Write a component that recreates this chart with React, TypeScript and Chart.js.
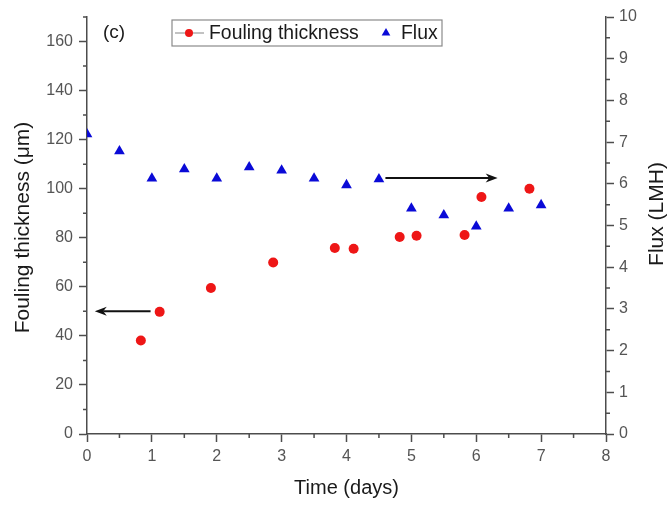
import React, { useEffect, useRef } from 'react';
import { Chart, registerables } from 'chart.js';

Chart.register(...registerables);

// ---- data ----
const timeFouling = [0.83, 1.12, 1.91, 2.87, 3.82, 4.11, 4.82, 5.08, 5.82, 6.08, 6.82];
const foulingThickness = [38.1, 49.8, 59.5, 69.9, 75.8, 75.5, 80.3, 80.8, 81.1, 96.6, 100.0];
const timeFlux = [0, 0.5, 1, 1.5, 2, 2.5, 3, 3.5, 4, 4.5, 5, 5.5, 6, 6.5, 7];
const fluxValues = [7.19, 6.78, 6.13, 6.35, 6.13, 6.4, 6.32, 6.13, 5.97, 6.11, 5.41, 5.25, 4.98, 5.41, 5.49];

const xTicks = [0, 1, 2, 3, 4, 5, 6, 7, 8];
const xMinor = [0.5, 1.5, 2.5, 3.5, 4.5, 5.5, 6.5, 7.5];
const leftTicks = [0, 20, 40, 60, 80, 100, 120, 140, 160];
const leftMinor = [10, 30, 50, 70, 90, 110, 130, 150, 170];
const rightTicks = [0, 1, 2, 3, 4, 5, 6, 7, 8, 9, 10];
const rightMinor = [0.5, 1.5, 2.5, 3.5, 4.5, 5.5, 6.5, 7.5, 8.5, 9.5];

// arrows: [x, y] in data units, axis = which y scale
const arrowToLeft = { from: [0.98, 50], to: [0.12, 50], axis: 'y' };
const arrowToRight = { from: [4.6, 6.14], to: [6.33, 6.14], axis: 'y2' };

const panelLabel = '(c)';
const xTitle = 'Time (days)';
const yTitle = 'Fouling thickness (μm)';
const y2Title = 'Flux (LMH)';

const FONT = '"Liberation Sans", Arial, Helvetica, sans-serif';
const AXIS = '#4d4d4d';
const TICK = '#555555';
const TITLE = '#1a1a1a';
const RED = 'rgb(238,22,22)';
const BLUE = 'rgb(10,10,215)';

const minorTicksPlugin = {
  id: 'minorTicks',
  afterDraw(chart: any) {
    const ctx = chart.ctx;
    const { x, y, y2 } = chart.scales;
    const a = chart.chartArea;
    ctx.save();
    ctx.strokeStyle = AXIS;
    ctx.lineWidth = 1.5;
    ctx.beginPath();
    xMinor.forEach((v) => {
      const px = x.getPixelForValue(v);
      ctx.moveTo(px, a.bottom);
      ctx.lineTo(px, a.bottom + 4);
    });
    leftMinor.forEach((v) => {
      const py = y.getPixelForValue(v);
      ctx.moveTo(a.left, py);
      ctx.lineTo(a.left - 4, py);
    });
    rightMinor.forEach((v) => {
      const py = y2.getPixelForValue(v);
      ctx.moveTo(a.right, py);
      ctx.lineTo(a.right + 4, py);
    });
    ctx.stroke();
    ctx.restore();
  },
};

function drawArrow(ctx: any, x1: number, y1: number, x2: number, y2: number) {
  const ang = Math.atan2(y2 - y1, x2 - x1);
  const L = 12;
  const W = 4.5;
  ctx.beginPath();
  ctx.moveTo(x1, y1);
  ctx.lineTo(x2 - Math.cos(ang) * L * 0.7, y2 - Math.sin(ang) * L * 0.7);
  ctx.stroke();
  ctx.beginPath();
  ctx.moveTo(x2, y2);
  ctx.lineTo(x2 - Math.cos(ang) * L - Math.sin(ang) * W, y2 - Math.sin(ang) * L + Math.cos(ang) * W);
  ctx.lineTo(x2 - Math.cos(ang) * L * 0.7, y2 - Math.sin(ang) * L * 0.7);
  ctx.lineTo(x2 - Math.cos(ang) * L + Math.sin(ang) * W, y2 - Math.sin(ang) * L - Math.cos(ang) * W);
  ctx.closePath();
  ctx.fill();
}

const decorPlugin = {
  id: 'decor',
  afterDraw(chart: any) {
    const ctx = chart.ctx;
    const a = chart.chartArea;
    const { x } = chart.scales;
    ctx.save();
    // arrows
    ctx.strokeStyle = '#111';
    ctx.fillStyle = '#111';
    ctx.lineWidth = 2;
    [arrowToLeft, arrowToRight].forEach((ar) => {
      const ys = chart.scales[ar.axis];
      drawArrow(
        ctx,
        x.getPixelForValue(ar.from[0]),
        ys.getPixelForValue(ar.from[1]),
        x.getPixelForValue(ar.to[0]),
        ys.getPixelForValue(ar.to[1])
      );
    });

    // titles
    ctx.fillStyle = TITLE;
    ctx.font = `20px ${FONT}`;
    ctx.textAlign = 'center';
    ctx.textBaseline = 'middle';
    ctx.fillText(xTitle, (a.left + a.right) / 2, 488);
    ctx.font = `21px ${FONT}`;
    ctx.save();
    ctx.translate(23, (a.top + a.bottom) / 2 + 2);
    ctx.rotate(-Math.PI / 2);
    ctx.fillText(yTitle, 0, 0);
    ctx.restore();
    ctx.save();
    ctx.translate(657, 214);
    ctx.rotate(-Math.PI / 2);
    ctx.fillText(y2Title, 0, 0);
    ctx.restore();

    // panel label
    ctx.font = `19px ${FONT}`;
    ctx.textAlign = 'left';
    ctx.fillText(panelLabel, a.left + 16, a.top + 16);

    // legend
    const ds = chart.data.datasets;
    const lx = a.left + 85;
    const ly = a.top + 3;
    const lw = 270;
    const lh = 26;
    ctx.fillStyle = '#fff';
    ctx.fillRect(lx, ly, lw, lh);
    ctx.strokeStyle = '#8a8a8a';
    ctx.lineWidth = 1.2;
    ctx.strokeRect(lx, ly, lw, lh);
    const cy = ly + lh / 2;
    ctx.strokeStyle = '#999';
    ctx.lineWidth = 1.2;
    ctx.beginPath();
    ctx.moveTo(lx + 3, cy);
    ctx.lineTo(lx + 32, cy);
    ctx.stroke();
    ctx.fillStyle = ds[0].backgroundColor;
    ctx.beginPath();
    ctx.arc(lx + 17, cy, 4, 0, Math.PI * 2);
    ctx.fill();
    ctx.fillStyle = TITLE;
    ctx.font = `19.4px ${FONT}`;
    ctx.textBaseline = 'middle';
    ctx.fillText(ds[0].label, lx + 37, cy + 1);
    // triangle
    const tx = lx + 214;
    const r = 5;
    ctx.fillStyle = ds[1].backgroundColor;
    ctx.beginPath();
    ctx.moveTo(tx, cy - r);
    ctx.lineTo(tx + r * 0.866, cy + r / 2);
    ctx.lineTo(tx - r * 0.866, cy + r / 2);
    ctx.closePath();
    ctx.fill();
    ctx.fillStyle = TITLE;
    ctx.fillText(ds[1].label, lx + 229, cy + 1);
    ctx.restore();
  },
};

export default function App() {
  const ref = useRef<HTMLCanvasElement | null>(null);

  useEffect(() => {
    document.body.style.margin = '0';
    const canvas = ref.current;
    if (!canvas) return;
    Chart.defaults.font.family = FONT;

    const chart = new Chart(canvas, {
      type: 'scatter',
      data: {
        datasets: [
          {
            label: 'Fouling thickness',
            data: timeFouling.map((t, i) => ({ x: t, y: foulingThickness[i] })),
            yAxisID: 'y',
            backgroundColor: RED,
            borderColor: RED,
            pointStyle: 'circle',
            pointRadius: 5,
            pointBorderWidth: 0,
            showLine: false,
            clip: 0,
          },
          {
            label: 'Flux',
            data: timeFlux.map((t, i) => ({ x: t, y: fluxValues[i] })),
            yAxisID: 'y2',
            backgroundColor: BLUE,
            borderColor: BLUE,
            pointStyle: 'triangle',
            pointRadius: 6.2,
            pointBorderWidth: 0,
            showLine: false,
            clip: 0,
          },
        ],
      },
      options: {
        responsive: false,
        animation: false,
        events: [],
        layout: { padding: { top: 17, left: 0, right: 0, bottom: 0 } },
        plugins: {
          legend: { display: false },
          title: { display: false },
          tooltip: { enabled: false },
        },
        scales: {
          x: {
            type: 'linear',
            position: 'bottom',
            min: 0,
            max: 8,
            afterBuildTicks: (s: any) => {
              s.ticks = xTicks.map((v) => ({ value: v }));
            },
            afterFit: (s: any) => {
              s.height = 73;
            },
            grid: { drawOnChartArea: false, tickLength: 8, tickColor: AXIS, tickWidth: 1.5 },
            border: { color: AXIS, width: 1.5 },
            ticks: { color: TICK, font: { size: 16 }, padding: 5, maxRotation: 0, autoSkip: false },
          },
          y: {
            type: 'linear',
            position: 'left',
            min: 0,
            max: 170,
            afterBuildTicks: (s: any) => {
              s.ticks = leftTicks.map((v) => ({ value: v }));
            },
            afterFit: (s: any) => {
              s.width = 87;
            },
            grid: { drawOnChartArea: false, tickLength: 8, tickColor: AXIS, tickWidth: 1.5 },
            border: { color: AXIS, width: 1.5 },
            ticks: { color: TICK, font: { size: 16 }, padding: 6, autoSkip: false },
          },
          y2: {
            type: 'linear',
            position: 'right',
            min: 0,
            max: 10,
            afterBuildTicks: (s: any) => {
              s.ticks = rightTicks.map((v) => ({ value: v }));
            },
            afterFit: (s: any) => {
              s.width = 62;
            },
            grid: { drawOnChartArea: false, tickLength: 8, tickColor: AXIS, tickWidth: 1.5 },
            border: { color: AXIS, width: 1.5 },
            ticks: { color: TICK, font: { size: 16 }, padding: 5, autoSkip: false },
          },
        },
      },
      plugins: [minorTicksPlugin, decorPlugin],
    } as any);

    return () => chart.destroy();
  }, []);

  return (
    <div style={{ width: 668, height: 507, position: 'relative', background: '#fff' }}>
      <canvas ref={ref} width={668} height={507} style={{ display: 'block' }} />
    </div>
  );
}
